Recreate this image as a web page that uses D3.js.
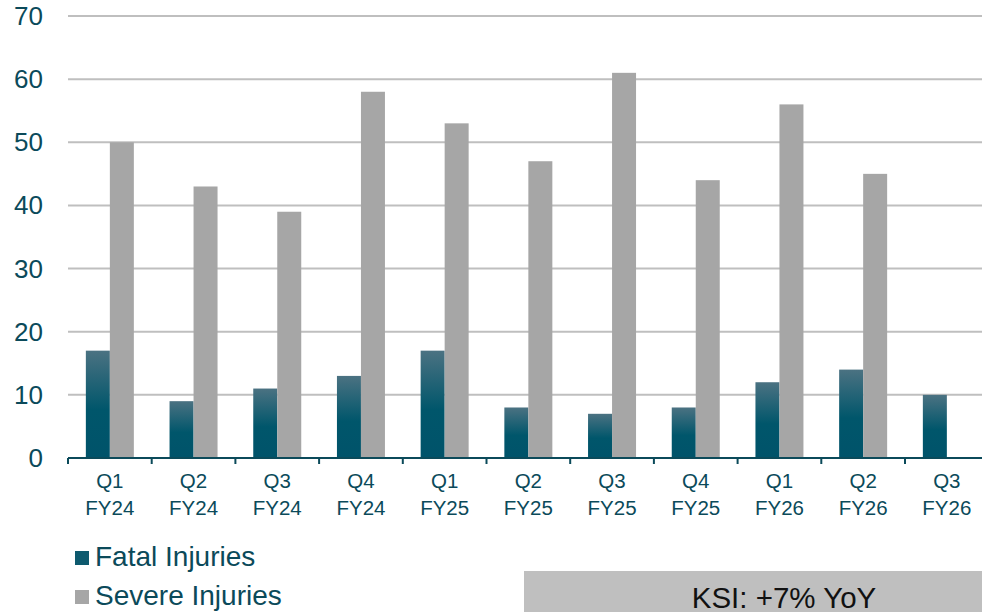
<!DOCTYPE html>
<html>
<head>
<meta charset="utf-8">
<script src="https://cdn.jsdelivr.net/npm/d3@7"></script>
<style>
  body { margin: 0; background: #fff; }
  svg { display: block; font-family: "Liberation Sans", Arial, sans-serif; }
</style>
</head>
<body>
<svg width="982" height="612"></svg>
<script>
// data
const quarters = ["Q1", "Q2", "Q3", "Q4", "Q1", "Q2", "Q3", "Q4", "Q1", "Q2", "Q3"];
const years = ["FY24", "FY24", "FY24", "FY24", "FY25", "FY25", "FY25", "FY25", "FY26", "FY26", "FY26"];
const fatal = [17, 9, 11, 13, 17, 8, 7, 8, 12, 14, 10];
const severe = [50, 43, 39, 58, 53, 47, 61, 44, 56, 45, null];
const yTicks = [0, 10, 20, 30, 40, 50, 60, 70];

const textColor = "#0b4a5a";
const svg = d3.select("svg");

const categories = quarters.map((q, i) => i);
const x = d3.scaleBand()
    .domain(categories)
    .range([68, 68 + 83.7 * 11])
    .paddingInner(0)
    .paddingOuter(0);
const y = d3.scaleLinear().domain([0, 70]).range([458, 16]);

// gradient for fatal bars
const defs = svg.append("defs");
const grad = defs.append("linearGradient")
    .attr("id", "fatalGrad")
    .attr("x1", 0).attr("y1", 0).attr("x2", 0).attr("y2", 1);
grad.append("stop").attr("offset", "0%").attr("stop-color", "#4b7282");
grad.append("stop").attr("offset", "55%").attr("stop-color", "#00566b");
grad.append("stop").attr("offset", "100%").attr("stop-color", "#00536a");

// gridlines
svg.append("g")
    .selectAll("line")
    .data(yTicks.filter(d => d > 0))
    .enter().append("line")
    .attr("x1", 68)
    .attr("x2", 982)
    .attr("y1", d => y(d))
    .attr("y2", d => y(d))
    .attr("stroke", "#bfbfbf")
    .attr("stroke-width", 2);

// y labels
svg.append("g")
    .selectAll("text")
    .data(yTicks)
    .enter().append("text")
    .attr("x", 43)
    .attr("y", d => y(d) + 9)
    .attr("text-anchor", "end")
    .attr("font-size", 26)
    .attr("fill", textColor)
    .text(d => d);

const barW = 24;

// fatal bars
svg.append("g")
    .selectAll("rect")
    .data(fatal)
    .enter().append("rect")
    .attr("x", (d, i) => x(i) + x.bandwidth() / 2 - barW)
    .attr("width", barW)
    .attr("y", d => y(d))
    .attr("height", d => y(0) - y(d))
    .attr("fill", "url(#fatalGrad)");

// severe bars
svg.append("g")
    .selectAll("rect")
    .data(severe.map((v, i) => ({ v, i })).filter(d => d.v != null))
    .enter().append("rect")
    .attr("x", d => x(d.i) + x.bandwidth() / 2)
    .attr("width", barW)
    .attr("y", d => y(d.v))
    .attr("height", d => y(0) - y(d.v))
    .attr("fill", "#a6a6a6");

// x axis line + ticks
svg.append("line")
    .attr("x1", 68).attr("x2", 982)
    .attr("y1", y(0)).attr("y2", y(0))
    .attr("stroke", "#0b4a5a")
    .attr("stroke-width", 2);

svg.append("g")
    .selectAll("line")
    .data(categories)
    .enter().append("line")
    .attr("x1", d => x(d)).attr("x2", d => x(d))
    .attr("y1", y(0)).attr("y2", y(0) + 6)
    .attr("stroke", "#0b4a5a")
    .attr("stroke-width", 2);

// x labels (two lines)
const xl = svg.append("g")
    .selectAll("text")
    .data(categories)
    .enter().append("text")
    .attr("text-anchor", "middle")
    .attr("font-size", 20.5)
    .attr("fill", textColor);
xl.append("tspan")
    .attr("x", d => x(d) + x.bandwidth() / 2)
    .attr("y", 488)
    .text(d => quarters[d]);
xl.append("tspan")
    .attr("x", d => x(d) + x.bandwidth() / 2)
    .attr("y", 515)
    .text(d => years[d]);

// legend
const legend = [
    { name: "Fatal Injuries", color: "#0e5a6e", y: 566 },
    { name: "Severe Injuries", color: "#a6a6a6", y: 605 }
];
const lg = svg.append("g").selectAll("g").data(legend).enter().append("g");
lg.append("rect")
    .attr("x", 75)
    .attr("y", d => d.y - 15)
    .attr("width", 14)
    .attr("height", 14)
    .attr("fill", d => d.color);
lg.append("text")
    .attr("x", 95)
    .attr("y", d => d.y)
    .attr("font-size", 28)
    .attr("fill", textColor)
    .text(d => d.name);

// KSI box
svg.append("rect")
    .attr("x", 524)
    .attr("y", 571)
    .attr("width", 458)
    .attr("height", 41)
    .attr("fill", "#bfbfbf");
svg.append("text")
    .attr("x", 784)
    .attr("y", 608)
    .attr("text-anchor", "middle")
    .attr("font-size", 29.5)
    .attr("fill", "#111")
    .text("KSI: +7% YoY");
</script>
</body>
</html>
